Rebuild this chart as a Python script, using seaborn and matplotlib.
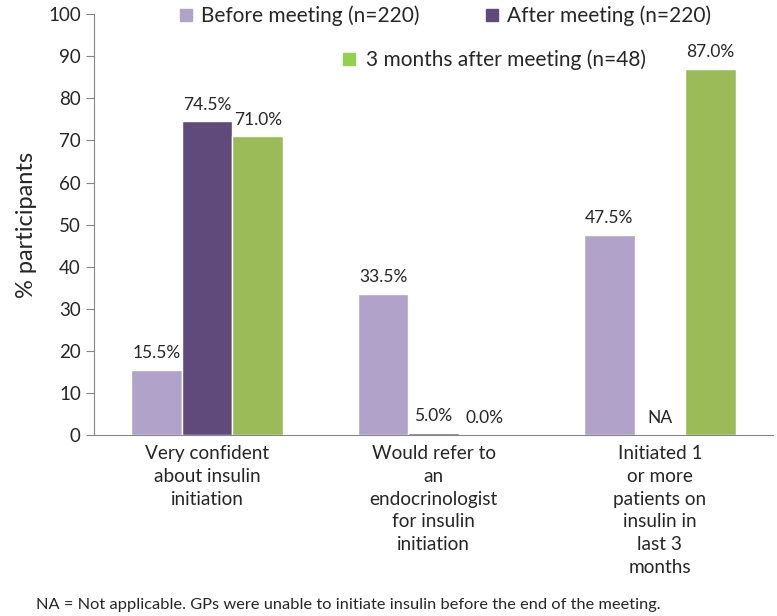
import numpy as np
import pandas as pd
import matplotlib.pyplot as plt
import seaborn as sns
from matplotlib.lines import Line2D

categories = [
    "Very confident\nabout insulin\ninitiation",
    "Would refer to\nan\nendocrinologist\nfor insulin\ninitiation",
    "Initiated 1\nor more\npatients on\ninsulin in\nlast 3\nmonths",
]
groups = ["Before meeting (n=220)", "After meeting (n=220)", "3 months after meeting (n=48)"]
before = [15.5, 33.5, 47.5]
after = [74.5, 0.5, np.nan]
three_months = [71.0, 0.0, 87.0]
before_labels = ["15.5%", "33.5%", "47.5%"]
after_labels = ["74.5%", "5.0%", "NA"]
three_months_labels = ["71.0%", "0.0%", "87.0%"]

colors = ["#B1A2C9", "#604A7B", "#9BBB59"]
legend_colors = ["#B1A2C9", "#604A7B", "#92D050"]

rows = []
for g, vals in zip(groups, [before, after, three_months]):
    for c, v in zip(categories, vals):
        rows.append({"category": c, "group": g, "pct": v})
df = pd.DataFrame(rows)

sns.set_style("white")
plt.rcParams["font.family"] = ["Lato", "DejaVu Sans"]

fig = plt.figure(figsize=(7.77, 6.16), dpi=100)
ax = fig.add_axes([0.121, 0.2938, 0.874, 0.6832])

sns.barplot(data=df, x="category", y="pct", hue="group", hue_order=groups,
            order=categories, palette=colors, width=0.67, saturation=1,
            legend=False, ax=ax)

ax.set_ylim(0, 100)
ax.set_xlim(-0.5, 2.5)
ax.set_yticks(range(0, 101, 10))
ax.tick_params(axis="y", labelsize=13.5, length=6, color="#868686", direction="out", left=True)
ax.tick_params(axis="x", labelsize=13.7, length=0, pad=7)
for lab in ax.get_xticklabels():
    lab.set_linespacing(1.42)
    lab.set_verticalalignment("top")
for s in ["top", "right"]:
    ax.spines[s].set_visible(False)
for s in ["left", "bottom"]:
    ax.spines[s].set_color("#868686")
ax.set_xlabel("")
ax.set_ylabel("% participants", fontsize=17, labelpad=8)

# data labels
all_labels = [before_labels, after_labels, three_months_labels]
all_vals = [before, after, three_months]
centers = {}
for gi, cont in enumerate(ax.containers):
    for bar in cont:
        h = bar.get_height()
        if np.isnan(h):
            continue
        xc = bar.get_x() + bar.get_width() / 2
        ci = int(round(xc))
        centers[(gi, ci)] = xc
for gi in range(3):
    for ci in range(3):
        v = all_vals[gi][ci]
        if (gi, ci) in centers:
            xc = centers[(gi, ci)]
        else:
            xc = (centers[(gi - 1, ci)] + centers[(gi + 1, ci)]) / 2
            v = 0
        ax.annotate(all_labels[gi][ci], (xc, 0 if np.isnan(v) else v),
                    xytext=(0, 12), textcoords="offset points",
                    ha="center", va="center", fontsize=12.5)

# legend
h = [Line2D([], [], marker="s", linestyle="", markersize=9,
            markerfacecolor=c, markeredgecolor=c) for c in legend_colors]
leg_kw = dict(frameon=False, fontsize=15, handlelength=1.0, borderpad=0, borderaxespad=0)
fig.legend(h[:2], groups[:2], ncol=2, loc="center left", bbox_to_anchor=(0.2265, 0.974),
           handletextpad=0.2, columnspacing=3.0, **leg_kw)
fig.legend(h[2:], groups[2:], loc="center left", bbox_to_anchor=(0.436, 0.9026),
           handletextpad=0.3, **leg_kw)

fig.text(0.046, 0.018, "NA = Not applicable. GPs were unable to initiate insulin before the end of the meeting.",
         fontsize=11.8, ha="left", va="center")

fig.savefig("out.png", dpi=100)
